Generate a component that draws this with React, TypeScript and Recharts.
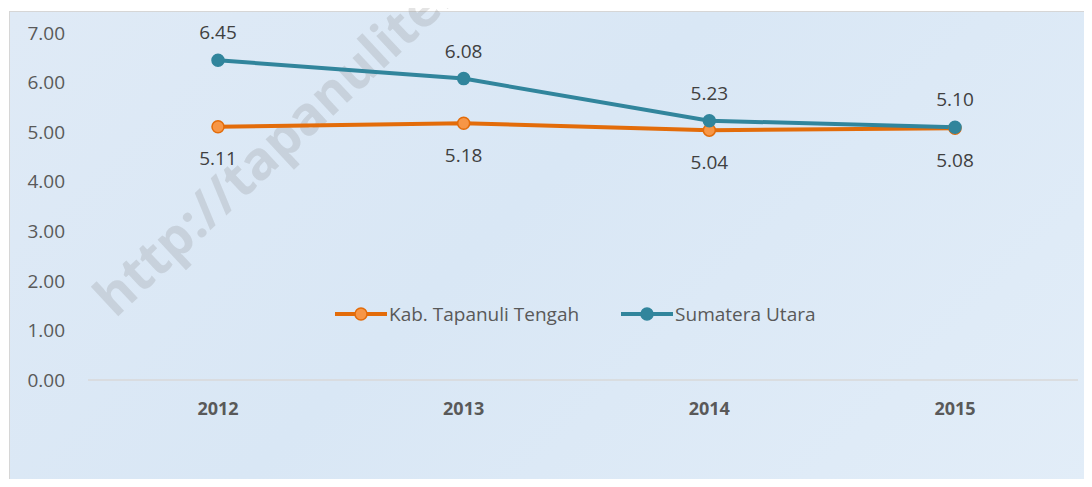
import React from 'react';
import { LineChart, Line, XAxis, YAxis, LabelList } from 'recharts';

const years = ['2012', '2013', '2014', '2015'];
const tapanuliTengah = [5.11, 5.18, 5.04, 5.08];
const sumateraUtara = [6.45, 6.08, 5.23, 5.1];
const yTicks = [0, 1, 2, 3, 4, 5, 6, 7];

const data = years.map((year, i) => ({
  year,
  tapteng: tapanuliTengah[i],
  sumut: sumateraUtara[i],
}));

const FONT = '"Open Sans", sans-serif';
const ORANGE = '#E36C0A';
const ORANGE_DOT = '#F79646';
const TEAL = '#31859C';

const LegendIcon = ({ stroke, fill }: { stroke: string; fill: string }) => (
  <svg width={52} height={16} style={{ display: 'block' }}>
    <line x1={0} y1={8} x2={52} y2={8} stroke={stroke} strokeWidth={4} />
    <circle cx={26} cy={8} r={6} fill={fill} stroke={stroke} strokeWidth={1.5} />
  </svg>
);

export default function App() {
  return (
    <div style={{ position: 'relative', width: 1092, height: 487, margin: -8, background: '#ffffff', overflow: 'hidden' }}>
      <div
        style={{
          position: 'absolute',
          left: 9,
          top: 11,
          width: 1083,
          height: 476,
          background: 'linear-gradient(135deg, #dfeaf6 0%, #d9e7f5 45%, #e2edf8 100%)',
          borderLeft: '1px solid #d6d6d6',
          borderTop: '1px solid #d6d6d6',
        }}
      />
      <div
        style={{
          position: 'absolute',
          left: 120,
          top: 270,
          height: 54,
          lineHeight: '54px',
          transform: 'rotate(-43deg)',
          transformOrigin: 'left bottom',
          fontFamily: FONT,
          fontWeight: 700,
          fontSize: 53,
          color: 'rgba(120,120,120,0.2)',
          whiteSpace: 'nowrap',
        }}
      >
        http://tapanulitengahkab.bps.go.id
      </div>
      <div style={{ position: 'absolute', left: 9, top: 11 }}>
        <LineChart width={1083} height={476} data={data} margin={{ top: 22, right: 14, left: 0, bottom: 67 }}>
          <XAxis
            dataKey="year"
            padding={{ left: 130, right: 123 }}
            axisLine={{ stroke: '#d9d9d9', strokeWidth: 1.5 }}
            tickLine={false}
            tickSize={0}
            tickMargin={22}
            height={40}
            tick={{ fill: '#595959', fontSize: 18, fontWeight: 700, fontFamily: FONT }}
          />
          <YAxis
            domain={[0, 7]}
            ticks={yTicks}
            width={79}
            axisLine={false}
            tickLine={false}
            tickSize={0}
            tickMargin={23}
            tickFormatter={(v: number) => v.toFixed(2)}
            tick={{ fill: '#595959', fontSize: 19, fontFamily: FONT }}
          />
          <Line
            type="linear"
            dataKey="tapteng"
            name="Kab. Tapanuli Tengah"
            stroke={ORANGE}
            strokeWidth={4}
            dot={{ r: 6, fill: ORANGE_DOT, stroke: ORANGE, strokeWidth: 1.5 }}
            isAnimationActive={false}
          >
            <LabelList
              dataKey="tapteng"
              position="bottom"
              offset={25}
              formatter={(v: number) => v.toFixed(2)}
              style={{ fill: '#404040', fontSize: 19, fontFamily: FONT }}
            />
          </Line>
          <Line
            type="linear"
            dataKey="sumut"
            name="Sumatera Utara"
            stroke={TEAL}
            strokeWidth={4}
            dot={{ r: 6, fill: TEAL, stroke: TEAL, strokeWidth: 1.5 }}
            isAnimationActive={false}
          >
            <LabelList
              dataKey="sumut"
              position="top"
              offset={21}
              formatter={(v: number) => v.toFixed(2)}
              style={{ fill: '#404040', fontSize: 19, fontFamily: FONT }}
            />
          </Line>
        </LineChart>
      </div>
      <div
        style={{
          position: 'absolute',
          left: 335,
          top: 301,
          display: 'flex',
          alignItems: 'center',
          fontFamily: FONT,
          fontSize: 19,
          color: '#595959',
        }}
      >
        <LegendIcon stroke={ORANGE} fill={ORANGE_DOT} />
        <span style={{ marginLeft: 2 }}>Kab. Tapanuli Tengah</span>
        <span style={{ width: 42 }} />
        <LegendIcon stroke={TEAL} fill={TEAL} />
        <span style={{ marginLeft: 2 }}>Sumatera Utara</span>
      </div>
    </div>
  );
}
